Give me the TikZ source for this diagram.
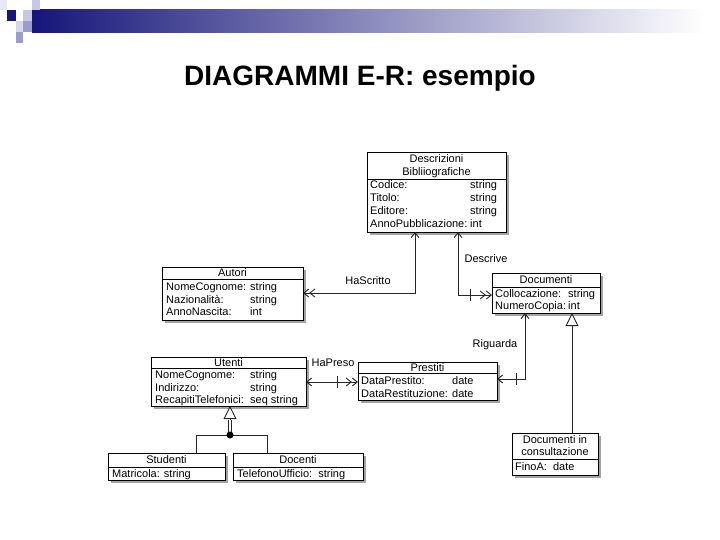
\documentclass[tikz,border=0pt]{standalone}
\usepackage{fontspec}
\setmainfont{Liberation Sans}
\usetikzlibrary{arrows.meta,shadows,calc}
\definecolor{hdnavy}{RGB}{22,22,122}
\definecolor{hdmid}{RGB}{150,150,180}
\definecolor{sqlight}{RGB}{200,200,230}
\definecolor{sqlight2}{RGB}{214,214,238}
\definecolor{sqmed}{RGB}{156,156,204}
\definecolor{sqfaint}{RGB}{232,232,244}
\tikzset{
  sb/.tip={Straight Barb[length=5pt,width=8pt,line width=0.9pt]},
  dsb/.tip={Straight Barb[length=5pt,width=8pt,line width=0.9pt] Straight Barb[length=5pt,width=8pt,line width=0.9pt]},
}
\begin{document}
\begin{tikzpicture}[x=1pt,y=-1pt,
  ent/.style={draw=black, line width=0.9pt, fill=white, anchor=north west, inner sep=0pt, outer sep=0pt,
    drop shadow={shadow xshift=2.5pt, shadow yshift=-3pt, opacity=0.45, fill=black!80}},
  txt/.style={font=\fontsize{11}{13}\selectfont, inner sep=0pt, text height=9.5pt, text depth=2.5pt, anchor=west},
  hdr/.style={txt, anchor=center},
  lab/.style={txt, anchor=center},
  sepline/.style={line width=0.9pt},
  conn/.style={line width=0.9pt, draw=black!85},
  tickmark/.style={line width=0.9pt, draw=black!85},
  tri/.style={-{Triangle[open, length=13pt, width=13pt, fill=white, line width=0.9pt]}},
]
\useasboundingbox (0,0) rectangle (720,540);

% header decoration
\shade[left color=hdnavy, middle color=hdmid, right color=white] (32,10) rectangle (705,33);
\fill[sqfaint] (0,0) rectangle (7,10);
\fill[hdnavy] (7,10) rectangle (16,21);
\fill[sqlight] (23,10) rectangle (32,21);
\fill[sqlight] (32,0) rectangle (40,10);
\fill[sqlight2] (16,21) rectangle (23,32);
\fill[sqmed] (23,21) rectangle (32,32);
\fill[sqmed] (16,32) rectangle (23,43);

% title
\node[font=\fontsize{28}{32}\selectfont\bfseries, anchor=base, inner sep=0pt] (title) at (360,86) {DIAGRAMMI E-R: esempio};

% Descrizioni Bibliografiche
\node[ent, minimum width=139pt, minimum height=80pt] (desc) at (367,152) {};
\draw[sepline] (desc.west |- 0,179) -- (desc.east |- 0,179);
\node[hdr] (descH1) at (desc.north |- 0,159) {Descrizioni};
\node[hdr] (descH2) at (desc.north |- 0,172) {Bibliiografiche};
\node[txt] (descA1) at (370,185) {Codice:};
\node[txt] (descT1) at (470,185) {string};
\node[txt] (descA2) at (370,198) {Titolo:};
\node[txt] (descT2) at (470,198) {string};
\node[txt] (descA3) at (370,211) {Editore:};
\node[txt] (descT3) at (470,211) {string};
\node[txt] (descA4) at (370,224) {AnnoPubblicazione:};
\node[txt] (descT4) at (470,224) {int};

% Autori
\node[ent, minimum width=141pt, minimum height=53pt] (autori) at (162,267) {};
\draw[sepline] (autori.west |- 0,279) -- (autori.east |- 0,279);
\node[hdr] (autH) at (autori.north |- 0,273) {Autori};
\node[txt] (autA1) at (166,287) {NomeCognome:};
\node[txt] (autT1) at (250,287) {string};
\node[txt] (autA2) at (166,299.5) {Nazionalità:};
\node[txt] (autT2) at (250,299.5) {string};
\node[txt] (autA3) at (166,312) {AnnoNascita:};
\node[txt] (autT3) at (250,312) {int};

% Documenti
\node[ent, minimum width=108pt, minimum height=40pt] (doc) at (492,273) {};
\draw[sepline] (doc.west |- 0,287) -- (doc.east |- 0,287);
\node[hdr] (docH) at (doc.north |- 0,280) {Documenti};
\node[txt] (docA1) at (495,294) {Collocazione:};
\node[txt] (docT1) at (568,294) {string};
\node[txt] (docA2) at (495,306) {NumeroCopia:};
\node[txt] (docT2) at (568,306) {int};

% Utenti
\node[ent, minimum width=155pt, minimum height=49pt] (ut) at (151,357) {};
\draw[sepline] (ut.west |- 0,368) -- (ut.east |- 0,368);
\node[hdr] (utH) at (ut.north |- 0,362.5) {Utenti};
\node[txt] (utA1) at (155,375) {NomeCognome:};
\node[txt] (utT1) at (250,375) {string};
\node[txt] (utA2) at (155,387.5) {Indirizzo:};
\node[txt] (utT2) at (250,387.5) {string};
\node[txt] (utA3) at (155,400) {RecapitiTelefonici:};
\node[txt] (utT3) at (250,400) {seq string};

% Prestiti
\node[ent, minimum width=139pt, minimum height=38pt] (prest) at (358,362) {};
\draw[sepline] (prest.west |- 0,373) -- (prest.east |- 0,373);
\node[hdr] (prH) at (prest.north |- 0,367.5) {Prestiti};
\node[txt] (prA1) at (361,381) {DataPrestito:};
\node[txt] (prT1) at (452,381) {date};
\node[txt] (prA2) at (361,394) {DataRestituzione:};
\node[txt] (prT2) at (452,394) {date};

% Studenti
\node[ent, minimum width=117pt, minimum height=27pt] (stud) at (108,453) {};
\draw[sepline] (stud.west |- 0,467) -- (stud.east |- 0,467);
\node[hdr] (stH) at (stud.north |- 0,460) {Studenti};
\node[txt] (stA1) at (112,474) {Matricola: string};

% Docenti
\node[ent, minimum width=130pt, minimum height=27pt] (doce) at (233,453) {};
\draw[sepline] (doce.west |- 0,467) -- (doce.east |- 0,467);
\node[hdr] (dcH) at (doce.north |- 0,460) {Docenti};
\node[txt] (dcA1) at (237,474) {TelefonoUfficio:\ \ string};

% Documenti in consultazione
\node[ent, minimum width=86pt, minimum height=42pt] (dic) at (512,433) {};
\draw[sepline] (dic.west |- 0,459) -- (dic.east |- 0,459);
\node[hdr] (dicH1) at (dic.north |- 0,440) {Documenti in};
\node[hdr] (dicH2) at (dic.north |- 0,452) {consultazione};
\node[txt] (dicA1) at (515,466.5) {FinoA:\ \ date};

% HaScritto
\coordinate (hs) at (415,293);
\draw[conn, {sb}-{dsb}] (desc.south -| hs) |- (autori.east |- hs);
\node[lab] (hsL) at (368,281) {HaScritto};

% Descrive
\coordinate (dv) at (458,295);
\draw[conn, {sb}-{dsb}] (desc.south -| dv) |- (doc.west |- dv);
\draw[tickmark] ($(doc.west |- dv)+(-22,-6)$) -- ++(0,12);
\node[lab] (dvL) at (486,259) {Descrive};

% Riguarda
\coordinate (rg) at (525,379);
\draw[conn, {sb}-{sb}] (doc.south -| rg) |- (prest.east |- rg);
\draw[tickmark] ($(prest.east |- rg)+(19,-6)$) -- ++(0,12);
\node[lab] (rgL) at (495,344) {Riguarda};

% HaPreso
\coordinate (hp) at (330,382);
\draw[conn, {sb}-{dsb}] (ut.east |- hp) -- (prest.west |- hp);
\draw[tickmark] ($(prest.west |- hp)+(-21,-6)$) -- ++(0,12);
\node[lab] (hpL) at (333,363) {HaPreso};

% Inheritance Documenti in consultazione -> Documenti
\coordinate (ih) at (572,400);
\draw[conn, tri] (dic.north -| ih) -- (doc.south -| ih);

% Generalization Utenti
\coordinate (gl) at (196,435);
\coordinate (gr) at (267,435);
\coordinate (gb) at (230,420);
\draw[conn] (stud.north -| gl) -- (gl) -- (gr) -- (doce.north -| gr);
\draw[conn, double=white, double distance=2.5pt] (230,432) -- (gb);
\draw[conn, tri] (gb) -- (ut.south -| gb);
\node[circle, fill=black, inner sep=0pt, minimum size=7pt] (gdot) at (230,435) {};
\end{tikzpicture}
\end{document}
